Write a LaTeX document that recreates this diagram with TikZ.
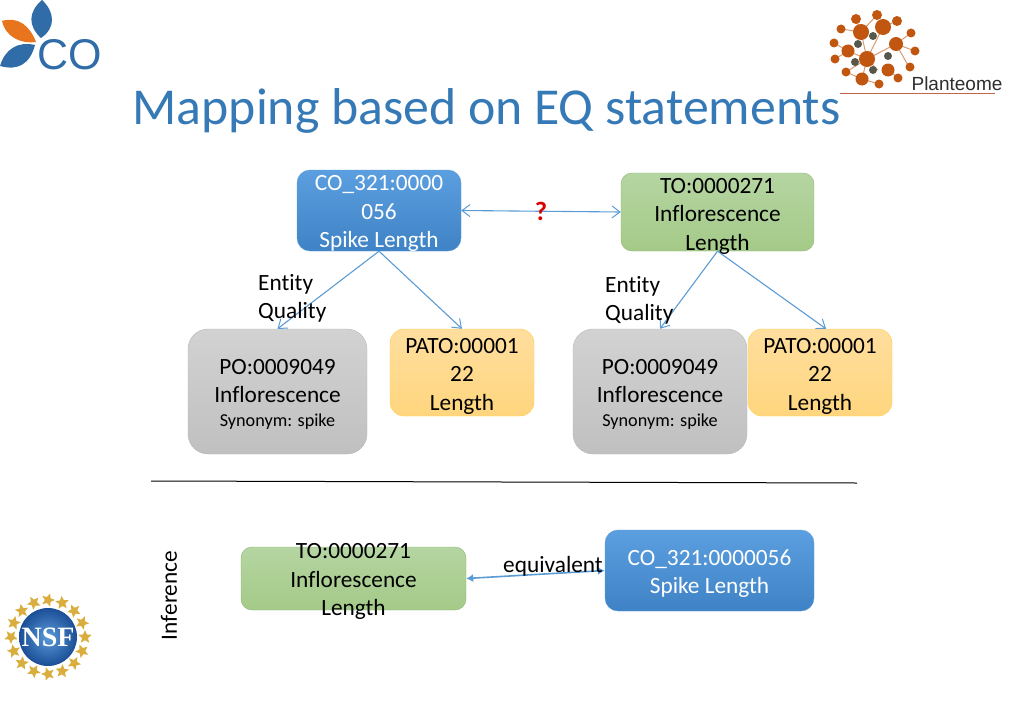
\documentclass[tikz,border=0pt]{standalone}
\usepackage{fontspec}
\setmainfont{Carlito}[Ligatures=NoCommon]
\newfontfamily\arialf{Liberation Sans}
\newfontfamily\timesf{Liberation Serif}
\usetikzlibrary{arrows.meta,shapes.geometric}
\definecolor{linkblue}{HTML}{5B9BD5}
\definecolor{titleblue}{HTML}{3579B6}
\definecolor{logoblue}{HTML}{2F6CA8}
\definecolor{logoorange}{HTML}{E8741E}
\definecolor{ballorange}{HTML}{C0560F}
\definecolor{balldark}{HTML}{55584A}
\definecolor{starcolor}{HTML}{D9AE3E}
\definecolor{blueTop}{HTML}{5B9FE0}
\definecolor{blueBot}{HTML}{3F83C6}
\definecolor{greenEdge}{HTML}{8DB870}
\definecolor{greenTop}{HTML}{B5D5A2}
\definecolor{greenBot}{HTML}{A4CA88}
\definecolor{grayEdge}{HTML}{BBBBBB}
\definecolor{grayTop}{HTML}{D2D2D2}
\definecolor{grayBot}{HTML}{C0C0C0}
\definecolor{goldEdge}{HTML}{FFCC44}
\definecolor{goldTop}{HTML}{FFDE9E}
\definecolor{goldBot}{HTML}{FFD67E}
\definecolor{redline}{HTML}{C0694A}
\definecolor{globeIn}{HTML}{5A9AD8}
\definecolor{globeOut}{HTML}{1B4E96}
\tikzset{
  x=1pt,y=-1pt,
  body/.style={font=\fontsize{23.3}{28.5}\selectfont,align=center,inner sep=0pt,text=black},
  whitebody/.style={body,text=white},
  bluebox/.style={rounded corners=13pt,inner sep=0pt,draw=linkblue,top color=blueTop,bottom color=blueBot},
  greenbox/.style={rounded corners=11pt,inner sep=0pt,draw=greenEdge,top color=greenTop,bottom color=greenBot},
  graybox/.style={rounded corners=20pt,inner sep=0pt,draw=grayEdge,top color=grayTop,bottom color=grayBot},
  goldbox/.style={rounded corners=14pt,inner sep=0pt,draw=goldEdge,top color=goldTop,bottom color=goldBot},
  link/.style={draw=linkblue,line width=1.1pt,-{Straight Barb[length=8pt,width=12pt,line width=1pt]}},
  linkboth/.style={draw=linkblue,line width=1.1pt,{Straight Barb[length=8pt,width=12pt,line width=1pt]}-{Straight Barb[length=8pt,width=12pt,line width=1pt]}},
  linkfilled/.style={draw=linkblue,line width=1.6pt,{Latex[length=7pt,width=8pt]}-{Latex[length=7pt,width=8pt]}},
  tag/.style={body,align=left,anchor=north west},
  spoke/.style={draw=ballorange!60!white,line width=1pt},
  bigball/.style={circle,fill=ballorange,inner sep=0pt,minimum size=#1},
  darkball/.style={circle,fill=balldark,inner sep=0pt,minimum size=#1},
}
\newcommand{\smalltxt}[1]{{\fontsize{18.2}{20}\selectfont #1}}
\begin{document}
\begin{tikzpicture}
\useasboundingbox (0,0) rectangle (1024,709);
% title
\node[text=titleblue,font=\fontsize{51.8}{60}\selectfont,inner sep=0pt] (title) at (486.5,111) {Mapping based on EQ statements};
% CO logo
\fill[logoblue] (42,0) .. controls (28,12) and (28,26) .. (41,38) .. controls (56,28) and (55,12) .. (42,0) -- cycle;
\fill[logoorange] (2,21) .. controls (18,16) and (30,26) .. (36,42) .. controls (22,44) and (6,38) .. (2,21) -- cycle;
\fill[logoblue] (35,45) .. controls (18,41) and (5,49) .. (0,66) .. controls (18,71) and (30,64) .. (35,45) -- cycle;
\node[text=logoblue,font=\arialf\fontsize{43}{43}\selectfont,inner sep=0pt] (cologo) at (70,55) {CO};
% Planteome logo
\foreach \a/\b/\c/\d in {861/32/877/15,861/32/856/19,861/32/841/29,883/27/897/21,896/44/911/33,896/44/915/51,896/44/909/67,848/51/834/43,848/51/835/59,867/59/846/72,867/59/878/70,867/59/896/44,867/59/861/32,867/59/848/51,888/70/898/78,862/79/846/72,862/79/867/59,862/79/879/84,883/27/867/59}
  \draw[spoke] (\a,\b) -- (\c,\d);
\foreach \x/\y/\s in {861/32/16,883/27/16,896/44/14,848/51/13,867/59/16,888/70/13,862/79/13}
  \node[bigball=\s pt] at (\x,\y) {};
\foreach \x/\y/\s in {877/15/10,856/19/10,841/29/9,897/21/10,911/33/9,915/51/9,834/43/9,835/59/9,846/72/9,879/84/9,898/78/9,910/67/9}
  \node[bigball=\s pt] at (\x,\y) {};
\foreach \x/\y/\s in {873/36/8,858/44/8,888/56/8,855/62/8,873/70/8}
  \node[darkball=\s pt] at (\x,\y) {};
\draw[draw=redline,line width=0.8pt] (840,93) -- (995,93);
\node[font=\arialf\fontsize{19}{19}\selectfont,text=black!82,inner sep=0pt] (plant) at (957,83.5) {Planteome};
% NSF logo
\foreach \i in {0,22.5,...,337.5}
  \node[star,star points=5,star point ratio=2.2,fill=starcolor,inner sep=0pt,minimum size=14pt,rotate=\i] at ({48+37*cos(\i)},{637+37*sin(\i)}) {};
\shade[inner color=globeIn,outer color=globeOut] (48,637) circle (29);
\node[text=white,font=\timesf\bfseries\fontsize{28}{28}\selectfont,inner sep=0pt] (nsf) at (48,637) {NSF};
% upper boxes
\node[bluebox,minimum width=164pt,minimum height=81pt] (co1) at (379,210.5) {};
\node[whitebody] (co1t) at ([yshift=-3pt]co1.center) {CO\_321:0000\\056\\Spike Length};
\node[greenbox,minimum width=193pt,minimum height=78pt] (to1) at (717.5,212) {};
\node[body] (to1t) at ([yshift=-4pt]to1.center) {TO:0000271\\Inflorescence\\Length};
\node[graybox,minimum width=179pt,minimum height=125pt] (po1) at (277.5,391.5) {};
\node[body] (po1t) at ([yshift=-2.5pt]po1.center) {PO:0009049\\Inflorescence\\[-5pt]\smalltxt{Synonym: spike}};
\node[goldbox,minimum width=144pt,minimum height=87pt] (pato1) at (462,372.5) {};
\node[body] (pato1t) at ([yshift=-3.5pt]pato1.center) {PATO:00001\\22\\Length};
\node[graybox,minimum width=174pt,minimum height=125pt] (po2) at (660,391.5) {};
\node[body] (po2t) at ([yshift=-2.5pt]po2.center) {PO:0009049\\Inflorescence\\[-5pt]\smalltxt{Synonym: spike}};
\node[goldbox,minimum width=144pt,minimum height=87pt] (pato2) at (820,372.5) {};
\node[body] (pato2t) at ([yshift=-3.5pt]pato2.center) {PATO:00001\\22\\Length};
% lower boxes
\node[greenbox,minimum width=225pt,minimum height=63pt] (to2) at (353.5,578.5) {};
\node[body] (to2t) at ([yshift=-3pt]to2.center) {TO:0000271\\Inflorescence\\Length};
\node[bluebox,minimum width=209pt,minimum height=81pt] (co2) at (709.5,570.5) {};
\node[whitebody] (co2t) at ([yshift=-3pt]co2.center) {CO\_321:0000056\\Spike Length};
% divider
\coordinate (divl) at (151,481);
\coordinate (divr) at (857,483);
\draw[black,line width=1pt] (divl) -- (divr);
% connectors
\draw[linkboth] (co1.east) -- (to1.west);
\draw[link] (co1.south) -- (po1.north);
\draw[link] (co1.south) -- (pato1.north);
\draw[link] (to1.south) -- (po2.north);
\draw[link] (to1.south) -- ([xshift=6pt]pato2.north);
\draw[linkfilled] (to2.east) -- (co2.west);
% labels
\node[tag] (ent1) at (258,274) {Entity\\Quality};
\node[tag] (ent2) at (605,276) {Entity\\Quality};
\node[body,text=red!85!black,font=\fontsize{26.5}{28.5}\selectfont\bfseries] (q) at (541,211) {?};
\node[body] (eq) at (553,566) {equivalent};
\node[body,rotate=90] (inf) at (169,595.5) {Inference};
\end{tikzpicture}
\end{document}
